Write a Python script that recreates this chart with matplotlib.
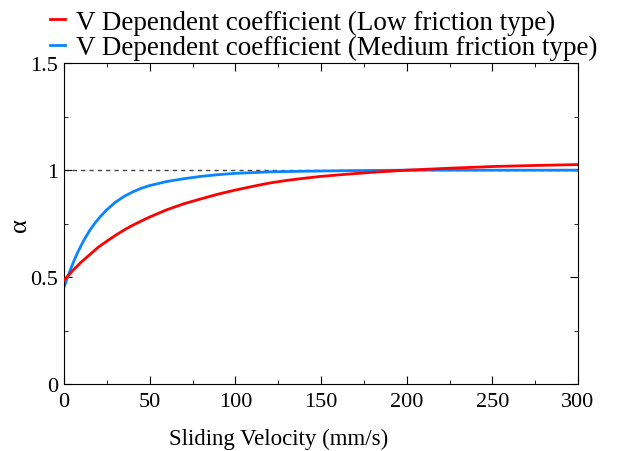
import matplotlib
matplotlib.use("Agg")
import matplotlib.pyplot as plt
from matplotlib.ticker import MultipleLocator

# Values.
v_low = [0, 5, 10, 15, 20, 25, 30, 35, 40, 45, 50, 60, 70, 80, 90, 100,
         110, 120, 130, 140, 150, 165, 180, 200, 225, 250, 275, 300]
alpha_low = [0.485, 0.53, 0.57, 0.605, 0.64, 0.668, 0.695, 0.72, 0.742,
             0.762, 0.781, 0.815, 0.843, 0.866, 0.888, 0.907, 0.924, 0.940,
             0.952, 0.962, 0.971, 0.981, 0.990, 1.0, 1.009, 1.017, 1.022,
             1.026]

v_med = [0, 2, 4, 6, 8, 10, 12, 15, 18, 21, 25, 30, 35, 40, 45, 50, 60, 70,
         80, 90, 100, 120, 140, 170, 200, 250, 300]
alpha_med = [0.452, 0.498, 0.54, 0.58, 0.616, 0.648, 0.678, 0.718, 0.752,
             0.781, 0.815, 0.850, 0.877, 0.898, 0.915, 0.928, 0.947, 0.960,
             0.971, 0.979, 0.985, 0.992, 0.995, 0.998, 1.0, 1.0, 1.0]

labels = ["V Dependent coefficient (Low friction type)",
          "V Dependent coefficient (Medium friction type)"]

plt.rcParams['font.family'] = ['Liberation Serif', 'DejaVu Serif']
plt.rcParams['font.size'] = 16

fig = plt.figure(figsize=(6.19, 4.52), dpi=100)
ax = fig.add_axes([0.1034, 0.148, 0.8304, 0.71])

ax.axhline(1.0, color='#444444', lw=1, ls=(0, (3, 3)), zorder=1)
l1, = ax.plot(v_low, alpha_low, color='#ff0000', lw=2, zorder=3)
l2, = ax.plot(v_med, alpha_med, color='#0a84ff', lw=2, zorder=2)

ax.set_xlim(0, 300)
ax.set_ylim(0, 1.5)
ax.xaxis.set_major_locator(MultipleLocator(50))
ax.xaxis.set_minor_locator(MultipleLocator(25))
ax.yaxis.set_minor_locator(MultipleLocator(0.25))
ax.set_yticks([0, 0.5, 1, 1.5])
ax.set_yticklabels(["0", "0.5", "1", "1.5"])
ax.tick_params(which='both', direction='in', top=True, right=True,
               labelsize=16)
ax.tick_params(which='major', length=6)
ax.tick_params(axis='x', which='major', pad=6)
ax.tick_params(axis='y', which='major', pad=4.5)
ax.tick_params(which='minor', length=3)

ax.set_xlabel("Sliding Velocity (mm/s)", fontsize=16.5)
ax.xaxis.set_label_coords(0.418, -0.135)
ax.set_ylabel("α", fontsize=19)
ax.yaxis.set_label_coords(-0.065, 0.5)

fig.legend([l1, l2], labels, loc='upper left', bbox_to_anchor=(0.042, 1.03),
           frameon=False, handlelength=0.55, handletextpad=0.4,
           labelspacing=0.0, fontsize=19.5)

plt.savefig("out.png", dpi=100)
